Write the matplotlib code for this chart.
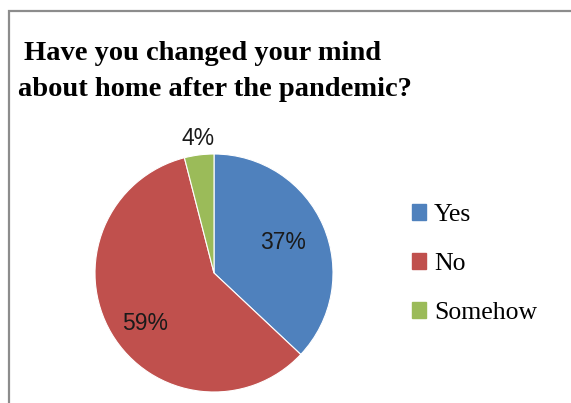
import matplotlib
matplotlib.use("Agg")
import matplotlib.pyplot as plt
from matplotlib.patches import Rectangle, Patch
import numpy as np

categories = ["Yes", "No", "Somehow"]
values = [37, 59, 4]
colors = ["#4F81BD", "#C0504D", "#9BBB59"]
title_lines = ["Have you changed your mind", "about home after the pandemic?"]

W, H = 571, 403
fig = plt.figure(figsize=(W / 100, H / 100), dpi=100)

# outer frame
fig.patches.append(Rectangle((9 / W, -0.05), 1.2, (H - 11) / H + 0.05,
                             transform=fig.transFigure, fill=False,
                             edgecolor="#8c8c8c", linewidth=1.6))

cx, cy, R = 214, 273, 119
ax = fig.add_axes([(cx - R) / W, (H - cy - R) / H, 2 * R / W, 2 * R / H])
wedges, texts, autotexts = ax.pie(values, colors=colors, startangle=90,
                                  counterclock=False, autopct="%1.0f%%",
                                  pctdistance=0.62, radius=1.0,
                                  wedgeprops=dict(linewidth=0.8, edgecolor="white"),
                                  textprops=dict(family="Liberation Sans", fontsize=16.5, color="#1a1a1a"))
ax.set_xlim(-1, 1)
ax.set_ylim(-1, 1)
ax.set_aspect("equal")

# reposition labels like Excel
pos = [(0.58, 0.255), (-0.58, -0.425), (-0.13, 1.13)]
for t, p in zip(autotexts, pos):
    t.set_position(p)

fig.text(203 / W, 1 - 53 / H, title_lines[0], ha="center", va="center",
         family="Liberation Serif", fontweight="bold", fontsize=20.5)
fig.text(215 / W, 1 - 89 / H, title_lines[1], ha="center", va="center",
         family="Liberation Serif", fontweight="bold", fontsize=20.5)

handles = [Patch(facecolor=c, edgecolor=c) for c in colors]
fig.legend(handles, categories, loc="center left",
           bbox_to_anchor=(394 / W, 1 - 264 / H), frameon=False,
           prop=dict(family="Liberation Serif", size=18.5),
           labelspacing=1.05, handlelength=0.55, handleheight=0.55,
           handletextpad=0.3, borderpad=0.2)

fig.savefig("out.png", dpi=100)
